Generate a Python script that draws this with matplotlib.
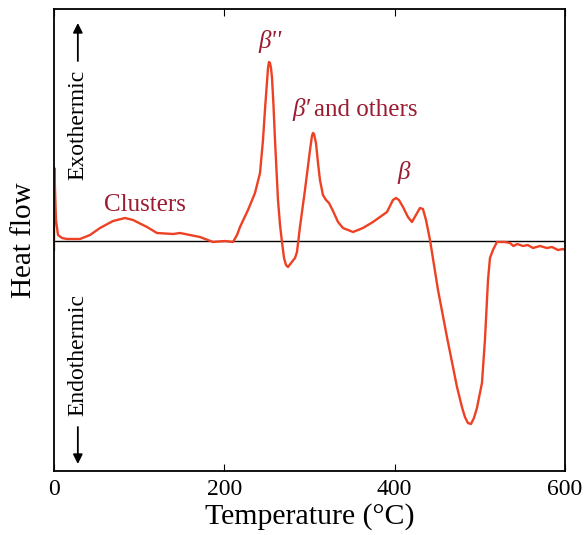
import matplotlib
matplotlib.use('Agg')
import matplotlib.pyplot as plt

plt.rcParams['font.family'] = ['Liberation Serif', 'DejaVu Serif']

# DSC trace (temperature in C, heat flow in arbitrary units)
temperature = [0.0, 0.4, 2.3, 4.7, 9.4, 15.3, 30.5, 42.3, 54.0, 69.3, 83.4, 92.8,
               109.2, 120.9, 139.7, 148.0, 159.7, 171.4, 186.7, 200.8, 210.2,
               214.9, 218.4, 227.8, 236.0, 241.9, 245.4, 247.7, 250.1, 251.3,
               252.4, 253.6, 254.8, 256.0, 257.7, 259.5, 263.0, 265.4, 267.7,
               270.1, 272.4, 274.8, 278.3, 283.0, 285.3, 288.8, 294.7, 300.6,
               302.9, 304.1, 305.3, 307.6, 310.0, 312.3, 315.8, 319.4, 322.9,
               327.6, 333.5, 339.3, 351.1, 362.8, 374.5, 391.0, 398.0, 401.5,
               405.0, 409.8, 415.6, 420.3, 425.0, 429.7, 433.2, 436.8, 441.5,
               446.2, 450.9, 461.4, 473.2, 479.0, 482.5, 486.0, 489.6, 493.1,
               496.6, 502.5, 506.0, 509.6, 511.9, 515.4, 520.1, 523.6, 529.5,
               535.4, 539.5, 544.0, 550.6, 556.4, 562.4, 570.6, 578.8, 584.7,
               591.8, 597.6, 600.0]
heat_flow = [-0.09, 0.73, 0.21, 0.06, 0.03, 0.02, 0.02, 0.06, 0.13, 0.20, 0.23, 0.21,
             0.14, 0.08, 0.07, 0.08, 0.06, 0.04, -0.01, 0.00, -0.01,
             0.06, 0.14, 0.31, 0.48, 0.68, 1.01, 1.31, 1.59, 1.73,
             1.79, 1.78, 1.73, 1.63, 1.36, 1.01, 0.41, 0.16, -0.01,
             -0.17, -0.24, -0.26, -0.22, -0.17, -0.11, 0.14, 0.51, 0.91,
             1.05, 1.08, 1.07, 0.98, 0.78, 0.61, 0.46, 0.41, 0.38,
             0.30, 0.19, 0.13, 0.09, 0.13, 0.19, 0.29, 0.41, 0.43,
             0.41, 0.34, 0.24, 0.19, 0.26, 0.33, 0.32, 0.21, 0.01,
             -0.24, -0.49, -0.96, -1.46, -1.66, -1.76, -1.82, -1.83, -1.77,
             -1.67, -1.42, -0.99, -0.39, -0.17, -0.09, -0.01, -0.01, -0.01,
             -0.02, -0.05, -0.03, -0.05, -0.04, -0.07, -0.05, -0.07, -0.06,
             -0.09, -0.08, -0.09]

peak_labels = ['Clusters', "β''", 'β′', 'and others', 'β']
peak_label_x = [107, 254, 301, 305, 411]
peak_label_y = [0.36, 1.99, 1.31, 1.31, 0.68]
peak_label_ha = ['center', 'center', 'right', 'left', 'center']
peak_label_style = ['normal', 'italic', 'italic', 'normal', 'italic']

x_ticks = [0, 200, 400, 600]

fig = plt.figure(figsize=(5.85, 5.35), dpi=100)
ax = fig.add_axes([0.0923, 0.1196, 0.8735, 0.8636])

ax.axhline(0, color='black', lw=1.0)
ax.plot(temperature, heat_flow, color='#ee4124', lw=1.7)

for label, x, y, ha, style in zip(peak_labels, peak_label_x, peak_label_y,
                                  peak_label_ha, peak_label_style):
    ax.text(x, y, label, color='#9b1b30', fontsize=18, ha=ha, va='center',
            style=style)

ax.text(28, 1.16, 'Exothermic', rotation=90, fontsize=17, ha='center', va='center')
ax.annotate('', xy=(28, 2.18), xytext=(28, 1.80),
            arrowprops=dict(arrowstyle='-|>', color='black', lw=1.3,
                            mutation_scale=14, shrinkA=0, shrinkB=0))
ax.text(28, -1.14, 'Endothermic', rotation=90, fontsize=17, ha='center', va='center')
ax.annotate('', xy=(28, -2.23), xytext=(28, -1.86),
            arrowprops=dict(arrowstyle='-|>', color='black', lw=1.3,
                            mutation_scale=14, shrinkA=0, shrinkB=0))

ax.set_xlim(0, 600)
ax.set_ylim(-2.30, 2.32)
ax.set_xticks(x_ticks)
ax.set_yticks([])
ax.tick_params(axis='x', direction='in', top=True, length=5, labelsize=17, pad=6)
for spine in ax.spines.values():
    spine.set_linewidth(1.3)

ax.set_xlabel('Temperature (°C)', fontsize=21.5, labelpad=2)
ax.set_ylabel('Heat flow', fontsize=21, labelpad=12)

fig.savefig('out.png', dpi=100)
